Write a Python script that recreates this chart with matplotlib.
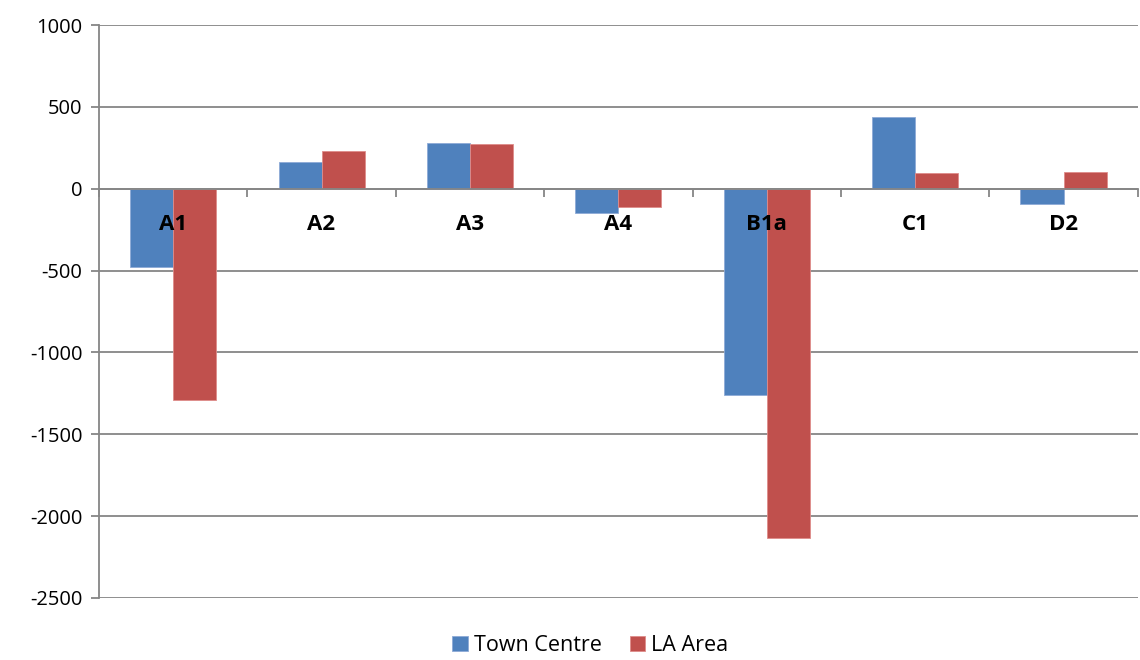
import numpy as np
import matplotlib.pyplot as plt

categories = ['A1', 'A2', 'A3', 'A4', 'B1a', 'C1', 'D2']
town_centre = [-477, 161, 281, -149, -1259, 440, -96]
la_area = [-1292, 228, 273, -110, -2131, 96, 102]

blue = '#4F81BD'
red = '#C0504D'
grey = '#868686'

plt.rcParams['font.family'] = ['Open Sans', 'DejaVu Sans']
plt.rcParams['axes.unicode_minus'] = False

fig = plt.figure(figsize=(11.4, 6.6), dpi=100, facecolor='w')
ax = fig.add_axes([0.0868, 0.094, 0.9112, 0.868])
ax.set_axisbelow(True)

x = np.arange(len(categories))
w = 0.29
ax.bar(x - w / 2, town_centre, w, color=blue, edgecolor='#8EAAD6', lw=0.6, label='Town Centre')
ax.bar(x + w / 2, la_area, w, color=red, edgecolor='#DE8C8A', lw=0.6, label='LA Area')

ax.set_xlim(-0.5, len(categories) - 0.5)
ax.set_ylim(-2500, 1000)
ax.set_yticks(np.arange(-2500, 1001, 500))
ax.grid(axis='y', color=grey, lw=1.3)

for s in ['top', 'right']:
    ax.spines[s].set_visible(False)
ax.spines['left'].set_color(grey)
ax.spines['left'].set_linewidth(1.3)
ax.spines['bottom'].set_position(('data', 0))
ax.spines['bottom'].set_color(grey)
ax.spines['bottom'].set_linewidth(1.3)

# boundary ticks on the zero line; names drawn on top of the bars
ax.set_xticks(np.arange(-0.5, len(categories)))
ax.set_xticklabels([])
ax.tick_params(axis='x', length=6, width=1.3, color=grey, direction='out')
ax.tick_params(axis='y', length=6, width=1.3, color=grey, labelsize=14.5, pad=6)

for xi, name in zip(x, categories):
    ax.annotate(name, xy=(xi, 0), xytext=(0, -26), textcoords='offset points',
                ha='center', va='center', fontsize=16, fontweight='bold', zorder=5)

ax.legend(loc='center', bbox_to_anchor=(0.518, 0.022), bbox_transform=fig.transFigure,
          ncol=2, frameon=False, fontsize=15.5, handlelength=0.7, handleheight=0.7,
          handletextpad=0.3, columnspacing=1.3, borderpad=0.1)

fig.savefig('out.png', dpi=100, facecolor='w')
